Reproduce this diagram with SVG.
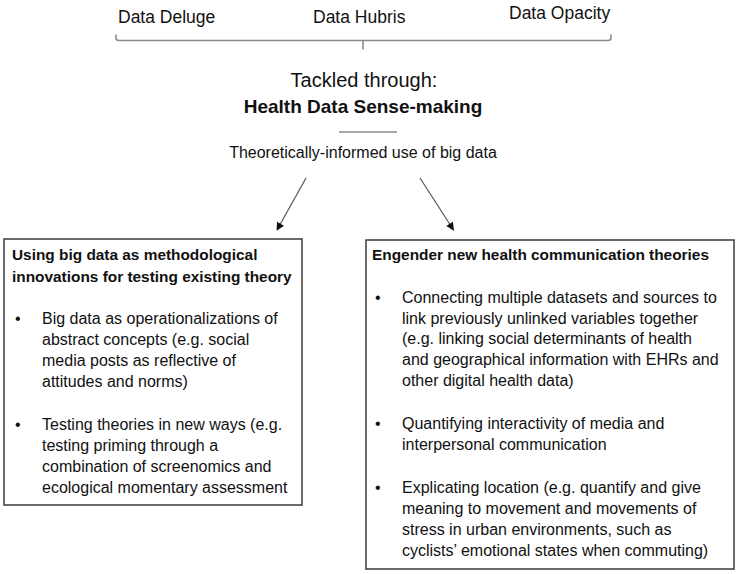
<svg xmlns="http://www.w3.org/2000/svg" width="736" height="574" viewBox="0 0 736 574">
<defs>
<style>
text{font-family:"Liberation Sans",Arial,sans-serif;fill:#111}
.top{font-size:17.5px}
.body{font-size:16px}
.head{font-size:15.4px;font-weight:bold}
.box{fill:#fff;stroke:#3a3a3a;stroke-width:1.5}
.conn{stroke:#555;stroke-width:1.2;fill:none}
.brace{stroke:#8a8a8a;stroke-width:1.6;fill:none}
</style>
<marker id="ah" viewBox="0 0 10 10" refX="9" refY="5" markerWidth="9" markerHeight="8" markerUnits="userSpaceOnUse" orient="auto">
<path d="M0,0 L10,5 L0,10 Z" fill="#111"/>
</marker>
</defs>
<rect width="736" height="574" fill="#fff"/>

<g id="top-labels">
<text class="top" x="118" y="23">Data Deluge</text>
<text class="top" x="313" y="23">Data Hubris</text>
<text class="top" x="509" y="18.5">Data Opacity</text>
</g>

<g id="brace">
<path class="brace" d="M116,34.5 V38 Q116,40.5 119,40.5 H608 Q611,40.5 611,38 V34.5"/>
<path class="brace" d="M363,40.5 V49.5"/>
</g>

<g id="center">
<text x="364" y="87" text-anchor="middle" style="font-size:20px">Tackled through:</text>
<text x="363" y="113" text-anchor="middle" style="font-size:19px;font-weight:bold">Health Data Sense-making</text>
<line x1="339" y1="132" x2="397" y2="132" stroke="#555" stroke-width="1.2"/>
<text class="body" x="363" y="158" text-anchor="middle">Theoretically-informed use of big data</text>
</g>

<g id="connectors">
<line class="conn" x1="306" y1="178" x2="277" y2="230" marker-end="url(#ah)"/>
<line class="conn" x1="420" y1="178" x2="453.5" y2="230" marker-end="url(#ah)"/>
</g>

<g id="left-box">
<rect class="box" x="4" y="239" width="298" height="266"/>
<text class="head" x="12" y="260">Using big data as methodological</text>
<text class="head" x="12" y="281.7">innovations for testing existing theory</text>
<text class="body" x="15" y="324.3">•</text>
<text class="body" x="42" y="324.3">Big data as operationalizations of</text>
<text class="body" x="42" y="345.2">abstract concepts (e.g. social</text>
<text class="body" x="42" y="366">media posts as reflective of</text>
<text class="body" x="42" y="386.8">attitudes and norms)</text>
<text class="body" x="15" y="430">•</text>
<text class="body" x="42" y="430">Testing theories in new ways (e.g.</text>
<text class="body" x="42" y="450.8">testing priming through a</text>
<text class="body" x="42" y="471.7">combination of screenomics and</text>
<text class="body" x="42" y="492.6">ecological momentary assessment</text>
</g>

<g id="right-box">
<rect class="box" x="366" y="240" width="368" height="329"/>
<text class="head" x="372" y="259.5">Engender new health communication theories</text>
<text class="body" x="375" y="302.7">•</text>
<text class="body" x="402" y="302.7">Connecting multiple datasets and sources to</text>
<text class="body" x="402" y="323.5">link previously unlinked variables together</text>
<text class="body" x="402" y="344.3">(e.g. linking social determinants of health</text>
<text class="body" x="402" y="365.1">and geographical information with EHRs and</text>
<text class="body" x="402" y="385.9">other digital health data)</text>
<text class="body" x="375" y="429.3">•</text>
<text class="body" x="402" y="429.3">Quantifying interactivity of media and</text>
<text class="body" x="402" y="450.1">interpersonal communication</text>
<text class="body" x="375" y="493.3">•</text>
<text class="body" x="402" y="493.3">Explicating location (e.g. quantify and give</text>
<text class="body" x="402" y="514.1">meaning to movement and movements of</text>
<text class="body" x="402" y="534.9">stress in urban environments, such as</text>
<text class="body" x="402" y="555.7">cyclists’ emotional states when commuting)</text>
</g>
</svg>
